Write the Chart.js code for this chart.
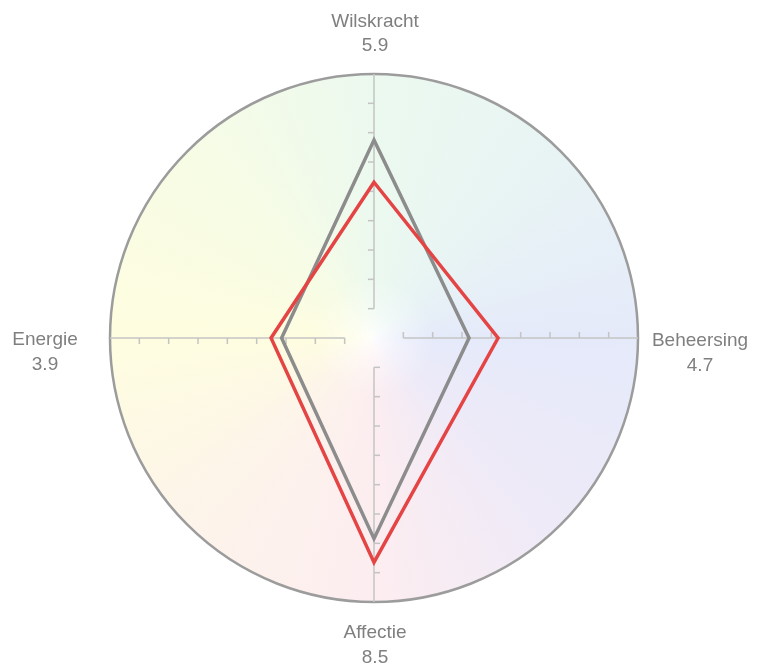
<!DOCTYPE html>
<html><head><meta charset="utf-8">
<script src="https://cdn.jsdelivr.net/npm/chart.js@4.4.1/dist/chart.umd.min.js"></script>
<style>html,body{margin:0;padding:0;background:#fff;}canvas{display:block;}</style>
</head><body>
<canvas id="c" width="759" height="669"></canvas>
<script>
// ---- data ----
const categories = ['Wilskracht', 'Beheersing', 'Affectie', 'Energie'];
const scoreValues = [5.9, 4.7, 8.5, 3.9];       // red series (values shown in labels)
const referenceValues = [7.5, 3.6, 7.6, 3.5];   // grey series
const scaleMin = 0;
const scaleMax = 10;
const axisDivisions = 9;

// ---- styles ----
const labelOffsets = [ [1, -40], [62, 15.5], [1, 43.5], [-65, 14.5] ];
const lineGap = 24.5;

const backgroundPlugin = {
  id: 'bg',
  beforeDraw(chart) {
    const s = chart.scales.r;
    const ctx = chart.ctx;
    const cx = s.xCenter, cy = s.yCenter, r = s.drawingArea;
    ctx.save();
    ctx.beginPath();
    ctx.arc(cx, cy, r, 0, Math.PI * 2);
    ctx.clip();
    const g = ctx.createConicGradient(0, cx, cy);
    g.addColorStop(0.00, '#e5eafa');
    g.addColorStop(0.125, '#eeeaf8');
    g.addColorStop(0.25, '#fcedf0');
    g.addColorStop(0.375, '#fdf4ea');
    g.addColorStop(0.50, '#fefde0');
    g.addColorStop(0.625, '#f7fce5');
    g.addColorStop(0.75, '#ecf9ef');
    g.addColorStop(0.875, '#e8f4f4');
    g.addColorStop(1.00, '#e5eafa');
    ctx.fillStyle = g;
    ctx.fillRect(cx - r, cy - r, 2 * r, 2 * r);
    const w = ctx.createRadialGradient(cx, cy, 0, cx, cy, 60);
    w.addColorStop(0, 'rgba(255,255,255,0.85)');
    w.addColorStop(0.4, 'rgba(255,255,255,0.4)');
    w.addColorStop(1, 'rgba(255,255,255,0)');
    ctx.fillStyle = w;
    ctx.fillRect(cx - r, cy - r, 2 * r, 2 * r);
    ctx.restore();
  },
  beforeDatasetsDraw(chart) {
    const s = chart.scales.r;
    const ctx = chart.ctx;
    const n = categories.length;
    const step = (scaleMax - scaleMin) / axisDivisions;
    ctx.save();
    ctx.strokeStyle = '#c4c4c4';
    ctx.lineWidth = 1.5;
    for (let i = 0; i < n; i++) {
      const a = s.getPointPosition(i, s.getDistanceFromCenterForValue(scaleMin + step));
      const b = s.getPointPosition(i, s.getDistanceFromCenterForValue(scaleMax));
      ctx.beginPath();
      ctx.moveTo(a.x, a.y);
      ctx.lineTo(b.x, b.y);
      ctx.stroke();
      const ang = a.angle;
      const px = Math.sin(ang), py = -Math.cos(ang);
      for (let k = 1; k < axisDivisions; k++) {
        const p = s.getPointPosition(i, s.getDistanceFromCenterForValue(scaleMin + step * k));
        ctx.beginPath();
        ctx.moveTo(p.x, p.y);
        ctx.lineTo(p.x + px * 6, p.y + py * 6);
        ctx.stroke();
      }
    }
    ctx.restore();
  },
  afterDraw(chart) {
    const s = chart.scales.r;
    const ctx = chart.ctx;
    ctx.save();
    ctx.font = '19px "Liberation Sans", Arial, sans-serif';
    ctx.fillStyle = '#7f7f7f';
    ctx.textAlign = 'center';
    ctx.textBaseline = 'middle';
    for (let i = 0; i < categories.length; i++) {
      const p = s.getPointPosition(i, s.drawingArea);
      const cx = p.x + labelOffsets[i][0];
      const cy = p.y + labelOffsets[i][1];
      ctx.fillText(categories[i], cx, cy - lineGap / 2);
      ctx.fillText(scoreValues[i].toFixed(1), cx, cy + lineGap / 2);
    }
    ctx.restore();
  }
};

new Chart(document.getElementById('c'), {
  type: 'radar',
  data: {
    labels: categories,
    datasets: [
      { data: scoreValues, borderColor: '#e54444', borderWidth: 3.5, fill: false, pointRadius: 0, pointHoverRadius: 0, tension: 0 },
      { data: referenceValues, borderColor: '#8c8c8c', borderWidth: 3.5, fill: false, pointRadius: 0, pointHoverRadius: 0, tension: 0 }
    ]
  },
  options: {
    responsive: false,
    animation: false,
    layout: { padding: { left: 0, right: 11, top: 74, bottom: 67 } },
    plugins: { legend: { display: false }, tooltip: { enabled: false } },
    scales: {
      r: {
        min: scaleMin,
        max: scaleMax,
        ticks: { display: false, stepSize: scaleMax - scaleMin },
        grid: { circular: true, color: '#9c9c9c', lineWidth: 2.5 },
        angleLines: { display: false },
        pointLabels: { display: false }
      }
    }
  },
  plugins: [backgroundPlugin]
});
</script>
</body></html>
